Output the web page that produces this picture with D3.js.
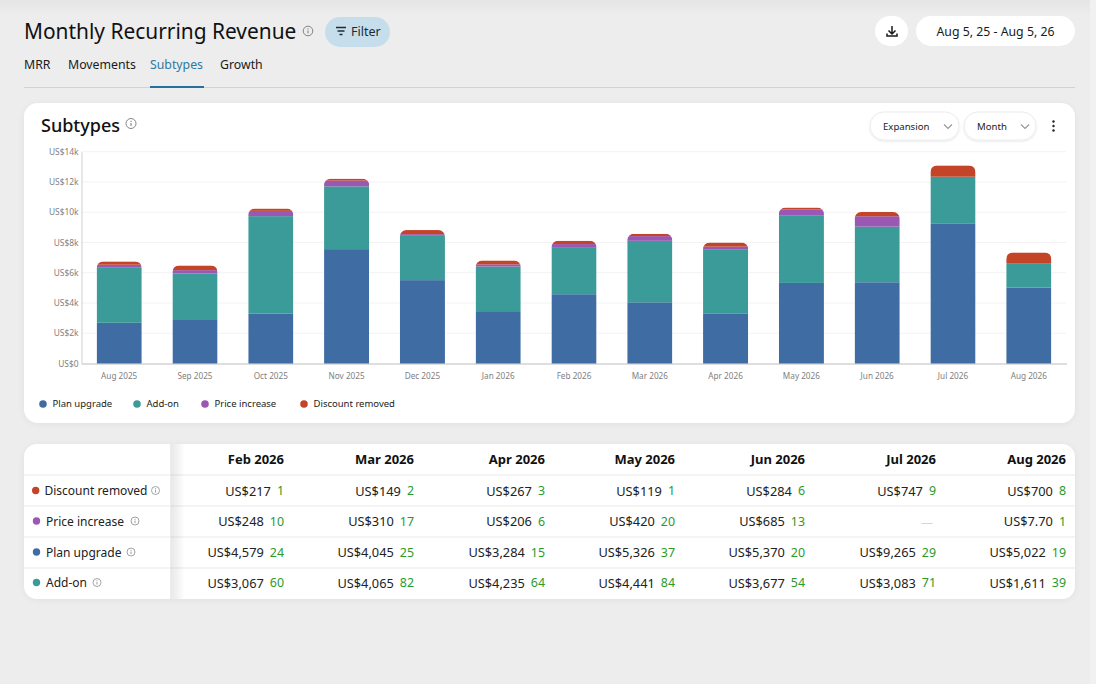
<!DOCTYPE html>
<html>
<head>
<meta charset="utf-8">
<style>
    html, body { margin: 0; padding: 0; background: #ededed; overflow: hidden; }
    svg { display: block; }
    text { font-family: "Noto Sans", sans-serif; }
</style>
<script src="https://cdn.jsdelivr.net/npm/d3@7"></script>
</head>
<body>
<div id="page"></div>
<script>
    const months = ["Aug 2025","Sep 2025","Oct 2025","Nov 2025","Dec 2025","Jan 2026","Feb 2026","Mar 2026","Apr 2026","May 2026","Jun 2026","Jul 2026","Aug 2026"];
    const planUpgrade = [2690,2930,3310,7560,5510,3460,4579,4045,3284,5326,5370,9265,5022];
    const addOn = [3640,3020,6430,4150,2930,2950,3067,4065,4235,4441,3677,3083,1611];
    const priceIncrease = [200,220,350,380,110,140,248,310,206,420,685,0,7.7];
    const discountRemoved = [220,310,150,130,270,260,217,149,267,119,284,747,700];

    const planCounts = [24,25,15,37,20,29,19];
    const addOnCounts = [60,82,64,84,54,71,39];
    const priceCounts = [10,17,6,20,13,null,1];
    const discountCounts = [1,2,3,1,6,9,8];

    const yTicks = [0,2000,4000,6000,8000,10000,12000,14000];
    const tabs = ["MRR","Movements","Subtypes","Growth"];
    const tabX = [24,68,150,220];

    const seriesNames = ["Plan upgrade","Add-on","Price increase","Discount removed"];
    const seriesColors = ["#3f6ca3","#3b9b98","#9a57b3","#c44428"];
    const legendDotX = [43,137,205,304];

    const tableMonths = months.slice(-7);
    const columnRight = [284,414,545,675,805,936,1066];

    const svg = d3.select("#page").append("svg").attr("width",1096).attr("height",684);
    const defs = svg.append("defs");

    const topFade = defs.append("linearGradient").attr("id","topFade").attr("x1",0).attr("x2",0).attr("y1",0).attr("y2",1);
    topFade.append("stop").attr("offset",0).attr("stop-color","#e5e5e5");
    topFade.append("stop").attr("offset",1).attr("stop-color","#ededed");

    const stickyFade = defs.append("linearGradient").attr("id","stickyFade");
    stickyFade.append("stop").attr("offset",0).attr("stop-color","#000").attr("stop-opacity",0.09);
    stickyFade.append("stop").attr("offset",1).attr("stop-color","#000").attr("stop-opacity",0);

    const soft = defs.append("filter").attr("id","soft").attr("x","-10%").attr("y","-10%").attr("width","120%").attr("height","130%");
    soft.append("feDropShadow").attr("dx",0).attr("dy",1).attr("stdDeviation",3).attr("flood-color","#000").attr("flood-opacity",0.05);
    const pill = defs.append("filter").attr("id","pill").attr("x","-10%").attr("y","-20%").attr("width","120%").attr("height","150%");
    pill.append("feDropShadow").attr("dx",0).attr("dy",1).attr("stdDeviation",1).attr("flood-color","#000").attr("flood-opacity",0.1);

    svg.append("rect").attr("width",1096).attr("height",684).attr("fill","#ededed");
    svg.append("rect").attr("width",1096).attr("height",16).attr("fill","url(#topFade)");
    svg.append("rect").attr("x",1090).attr("width",6).attr("height",684).attr("fill","#f1f1f1");

    function label(parent, str, x, y, size, color, weight, anchor) {
        return parent.append("text")
            .attr("x",x).attr("y",y)
            .attr("dominant-baseline","central")
            .attr("text-anchor",anchor || "start")
            .attr("font-size",size)
            .attr("font-weight",weight || 400)
            .attr("fill",color)
            .text(str);
    }

    function infoIcon(parent, cx, cy, r, color) {
        let g = parent.append("g").attr("stroke",color).attr("fill","none");
        g.append("circle").attr("cx",cx).attr("cy",cy).attr("r",r).attr("stroke-width",0.9);
        g.append("line").attr("x1",cx).attr("x2",cx).attr("y1",cy-r*0.1).attr("y2",cy+r*0.5).attr("stroke-width",1);
        g.append("line").attr("x1",cx).attr("x2",cx).attr("y1",cy-r*0.55).attr("y2",cy-r*0.3).attr("stroke-width",1);
    }

    function drawHeader() {
        label(svg,"Monthly Recurring Revenue",24,30.5,20.9,"#111",400);
        infoIcon(svg,308,31,4.8,"#777");

        svg.append("rect").attr("x",325).attr("y",17).attr("width",65).attr("height",30).attr("rx",15).attr("fill","#c6deec");
        let lines = [[336,346,27.5],[337.5,344.5,31],[339.5,342.5,34.5]];
        lines.forEach(l => svg.append("line").attr("x1",l[0]).attr("x2",l[1]).attr("y1",l[2]).attr("y2",l[2]).attr("stroke","#1c2b33").attr("stroke-width",1.5));
        label(svg,"Filter",351,31.5,12.5,"#1c2b33",400);

        tabs.forEach((t,i) => {
            label(svg,t,tabX[i],64.5,12.3,t === "Subtypes" ? "#2f79a3" : "#1a1a1a",400);
        });
        svg.append("line").attr("x1",24).attr("x2",1075).attr("y1",87.5).attr("y2",87.5).attr("stroke","#d2d2d2");
        svg.append("rect").attr("x",150).attr("y",86).attr("width",54).attr("height",2).attr("fill","#26709b");

        svg.append("rect").attr("x",875).attr("y",16).attr("width",33).attr("height",30).attr("rx",15).attr("fill","#fff");
        let dl = svg.append("g").attr("fill","none").attr("stroke","#1a1a1a").attr("stroke-width",1.5);
        dl.append("path").attr("d","M892 26V34M888.5 30.5L892 34L895.5 30.5");
        dl.append("path").attr("d","M887 33.5V36H897V33.5");

        svg.append("rect").attr("x",916).attr("y",16).attr("width",159).attr("height",30).attr("rx",15).attr("fill","#fff");
        label(svg,"Aug 5, 25 - Aug 5, 26",995.5,31,12.3,"#1a1a1a",400,"middle");
    }

    function drawDropdown(parent, x, w, str) {
        parent.append("rect").attr("x",x).attr("y",112).attr("width",w).attr("height",28).attr("rx",14)
            .attr("fill","#fff").attr("stroke","#ececec").attr("filter","url(#pill)");
        label(parent,str,x+13,126,9.6,"#222",400);
        parent.append("path").attr("d",`M${x+w-15} 124.5L${x+w-11} 128.5L${x+w-7} 124.5`)
            .attr("fill","none").attr("stroke","#999").attr("stroke-width",1.2);
    }

    function drawChartCard() {
        let card = svg.append("g");
        card.append("rect").attr("x",24).attr("y",103).attr("width",1051).attr("height",320).attr("rx",14)
            .attr("fill","#fff").attr("filter","url(#soft)");
        label(card,"Subtypes",41,125,18,"#111",500);
        infoIcon(card,131,123.5,5,"#777");

        drawDropdown(card,870,89,"Expansion");
        drawDropdown(card,964,72,"Month");
        [121.5,126,130.5].forEach(y => card.append("circle").attr("cx",1053.5).attr("cy",y).attr("r",1.2).attr("fill","#222"));

        let xScale = d3.scaleBand().domain(months).range([81.5,1066.5]).paddingInner(0.405).paddingOuter(0.2);
        let yScale = d3.scaleLinear().domain([0,14000]).range([363.5,151.7]);

        let grid = card.append("g");
        grid.selectAll("line").data(yTicks.slice(1)).enter().append("line")
            .attr("x1",81).attr("x2",1066)
            .attr("y1",d => yScale(d)).attr("y2",d => yScale(d))
            .attr("stroke","#f3f3f3");

        let axisY = d3.axisLeft(yScale).tickValues(yTicks).tickSize(0).tickPadding(3)
            .tickFormat(d => d === 0 ? "US$0" : "US$" + d/1000 + "k");
        let gy = card.append("g").attr("transform","translate(81.5,0)").call(axisY);
        gy.select(".domain").attr("stroke","#cfcfcf");
        gy.selectAll("text").attr("font-size",8.4).attr("fill","#808080").style("font-family",'"Noto Sans", sans-serif');

        let axisX = d3.axisBottom(xScale).tickSize(0).tickPadding(10);
        let gx = card.append("g").attr("transform","translate(0,363.5)").call(axisX);
        gx.select(".domain").attr("stroke","#bdbdbd");
        gx.selectAll("text").attr("font-size",8.2).attr("fill","#808080").style("font-family",'"Noto Sans", sans-serif');

        let rows = months.map((m,i) => ({
            month: m,
            "Plan upgrade": planUpgrade[i],
            "Add-on": addOn[i],
            "Price increase": priceIncrease[i],
            "Discount removed": discountRemoved[i]
        }));
        let stacked = d3.stack().keys(seriesNames)(rows);

        // one rounded clip per column so only the top of each stack gets a radius
        rows.forEach((r,i) => {
            let top = stacked[3][i][1];
            defs.append("clipPath").attr("id","barClip"+i).append("rect")
                .attr("x",xScale(r.month)).attr("y",yScale(top))
                .attr("width",xScale.bandwidth()).attr("height",yScale(0)-yScale(top)+10)
                .attr("rx",6.5);
        });

        stacked.forEach((layer,k) => {
            card.append("g").selectAll("rect").data(layer).enter().append("rect")
                .attr("clip-path",(d,i) => `url(#barClip${i})`)
                .attr("x",d => xScale(d.data.month))
                .attr("y",d => yScale(d[1]))
                .attr("width",xScale.bandwidth())
                .attr("height",d => yScale(d[0]) - yScale(d[1]))
                .attr("fill",seriesColors[k]);
        });

        seriesNames.forEach((name,i) => {
            card.append("circle").attr("cx",legendDotX[i]).attr("cy",404).attr("r",3.8).attr("fill",seriesColors[i]);
            label(card,name,legendDotX[i]+9.5,403.5,9.5,"#222",400);
        });
    }

    function drawTable() {
        let table = svg.append("g");
        table.append("rect").attr("x",24).attr("y",444).attr("width",1051).attr("height",155).attr("rx",13)
            .attr("fill","#fff").attr("filter","url(#soft)");

        let rowLines = [475,506,537,568];
        rowLines.forEach(y => table.append("line").attr("x1",24).attr("x2",1075).attr("y1",y).attr("y2",y).attr("stroke","#f1f1f1").attr("stroke-width",1.4));

        table.append("rect").attr("x",171).attr("y",444).attr("width",14).attr("height",155).attr("fill","url(#stickyFade)");
        table.append("line").attr("x1",170.5).attr("x2",170.5).attr("y1",444).attr("y2",599).attr("stroke","#ececec");

        let amount = d3.format(",");
        let tableRows = [
            {name:"Discount removed", values:discountRemoved, counts:discountCounts, y:491, dot:35.7, tx:44.5, info:155.5},
            {name:"Price increase", values:priceIncrease, counts:priceCounts, y:521.5, dot:36.5, tx:46, info:135},
            {name:"Plan upgrade", values:planUpgrade, counts:planCounts, y:552.5, dot:36.5, tx:46, info:131},
            {name:"Add-on", values:addOn, counts:addOnCounts, y:583, dot:36.5, tx:46, info:97}
        ];

        tableMonths.forEach((m,j) => {
            label(table,m,columnRight[j],459,13,"#111",700,"end");
        });

        tableRows.forEach(row => {
            let color = seriesColors[seriesNames.indexOf(row.name)];
            table.append("circle").attr("cx",row.dot).attr("cy",row.y-0.5).attr("r",3.7).attr("fill",color);
            label(table,row.name,row.tx,row.y-0.5,12,"#222",400);
            infoIcon(table,row.info,row.y-0.5,4,"#999");

            let recent = row.values.slice(-7);
            recent.forEach((v,j) => {
                let count = row.counts[j];
                let right = columnRight[j];
                if (count === null) {
                    label(table,"—",right-3,row.y+1,12,"#d5d5d5",400,"end");
                    return;
                }
                let c = label(table,count,right,row.y-0.5,12.4,"#2b9a2b",400,"end");
                let w = c.node().getComputedTextLength();
                let str = v < 100 ? "US$" + v.toFixed(2) : "US$" + amount(v);
                label(table,str,right-w-6,row.y-0.5,12.8,"#222",400,"end");
            });
        });
    }

    drawHeader();
    drawChartCard();
    drawTable();
</script>
</body>
</html>
